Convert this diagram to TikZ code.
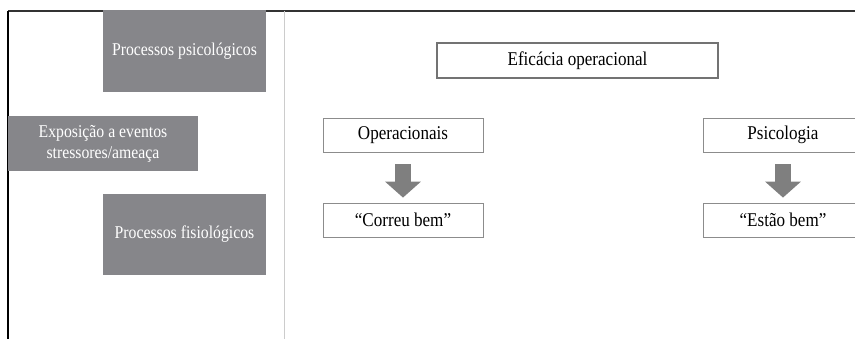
\documentclass[tikz,border=0pt]{standalone}
\usepackage{fontspec}
\setmainfont[FakeStretch=0.875]{Liberation Serif}
\usetikzlibrary{arrows.meta}

\definecolor{boxgray}{HTML}{86868A}
\definecolor{arrowgray}{HTML}{7F7F7F}
\definecolor{edgegray}{HTML}{8C8C8C}

\begin{document}
\begin{tikzpicture}[x=1pt, y=-1pt, font=\fontsize{19.5}{22}\selectfont,
  darkbox/.style={draw=none, fill=boxgray, text=white, inner sep=0pt, align=center,
    font=\fontsize{18}{21}\selectfont},
  whitebox/.style={draw=edgegray, line width=0.8pt, fill=white, inner sep=0pt,
    minimum width=160pt, minimum height=34pt},
  blockarrow/.style={arrowgray, line width=16pt,
    -{Triangle[width=35pt, length=16pt]}, shorten >=5pt, shorten <=12pt}]
\useasboundingbox (0,0) rectangle (855,339);

% frame
\draw[black!80, line width=1.4pt] (8,11) -- (855,11);
\draw[black, line width=1.2pt] (8,11) -- (8,339);
\draw[black!20, line width=0.8pt] (284,11) -- (284,339);

% Filled
\node[darkbox, minimum width=163pt, minimum height=82pt] (psi) at (184.5,51) {Processos psicológicos};
\node[darkbox, minimum width=190pt, minimum height=55pt] (expo) at (103,143.5) {Exposição a eventos\\[0pt]stressores/ameaça};
\node[darkbox, minimum width=163pt, minimum height=81pt] (fisio) at (184.5,234.5) {Processos fisiológicos};

% Unfilled
\node[draw=black!55, line width=1.4pt, inner sep=0pt, minimum width=281pt, minimum height=35pt] (efic) at (577.5,60.5) {Eficácia operacional};
\node[whitebox] (oper) at (403,135) {Operacionais};
\node[whitebox] (correu) at (403,220) {“Correu bem”};
\node[whitebox] (psico) at (783,135) {Psicologia};
\node[whitebox] (estao) at (783,220) {“Estão bem”};

\draw[blockarrow] (oper.south) -- (correu.north);
\draw[blockarrow] (psico.south) -- (estao.north);
\end{tikzpicture}
\end{document}
